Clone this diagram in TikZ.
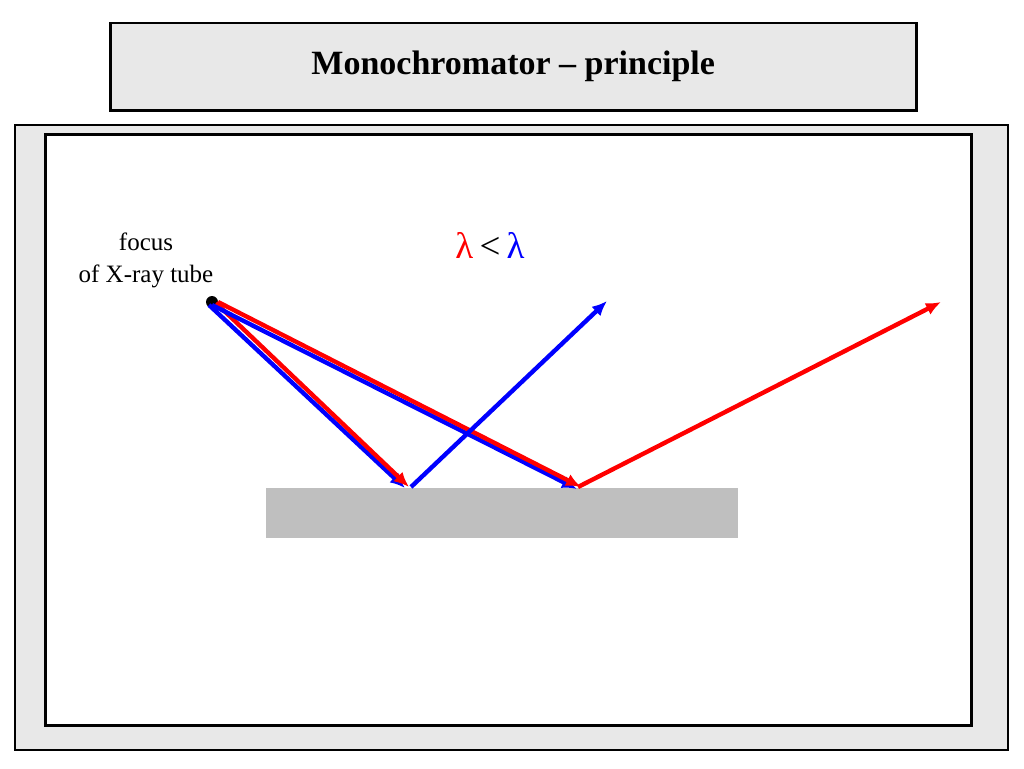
\documentclass[tikz,border=0pt]{standalone}
\usepackage{fontspec}
\setmainfont{Liberation Serif}
\begin{document}
\begin{tikzpicture}[x=1pt,y=-1pt,
 ray/.style={line width=4.4pt,-{Latex[length=15pt,width=13pt]}},
 frame/.style={draw=black,line width=2.5pt}]
\usetikzlibrary{arrows.meta}
\useasboundingbox (0,0) rectangle (1024,768);
\node[frame,fill=black!9,minimum width=806pt,minimum height=87pt,anchor=north west] (title) at (109,22) {};
\node[font=\bfseries\fontsize{34}{38}\selectfont] (tt) at (title.center) {Monochromator -- principle};
\node[draw=black,line width=1.5pt,fill=black!9,minimum width=993pt,minimum height=625pt,anchor=north west] (outer) at (14,124) {};
\node[frame,fill=white,minimum width=926pt,minimum height=591pt,anchor=north west] (inner) at (44,133) {};
\node[fill=black!25,minimum width=472pt,minimum height=50pt,anchor=north west,inner sep=0] (crystal) at (266,488) {};
\node[align=center,font=\fontsize{25}{32}\selectfont] (lbl) at (146,260) {focus\\of X-ray tube};
\node[font=\fontsize{37}{38}\selectfont] (lam) at (490,245) {\textcolor{red}{λ}\,<\,\textcolor{blue}{λ}};
\fill (212,302) circle (6) coordinate (f);
\coordinate (bA) at (209,305); \coordinate (bB) at (405,488);
\coordinate (rA) at (216,303); \coordinate (rB) at (409,487);
\coordinate (bC) at (212,305); \coordinate (bD) at (577,489);
\coordinate (rC) at (218,302); \coordinate (rD) at (581,487);
\coordinate (bE) at (411,487); \coordinate (bF) at (607,301);
\coordinate (rE) at (578,487); \coordinate (rF) at (941,302);
\draw[ray,blue] (bA) -- (bB);
\draw[ray,red] (rA) -- (rB);
\draw[ray,blue] (bC) -- (bD);
\draw[ray,red] (rC) -- (rD);
\draw[ray,blue] (bE) -- (bF);
\draw[ray,red] (rE) -- (rF);
\end{tikzpicture}
\end{document}
